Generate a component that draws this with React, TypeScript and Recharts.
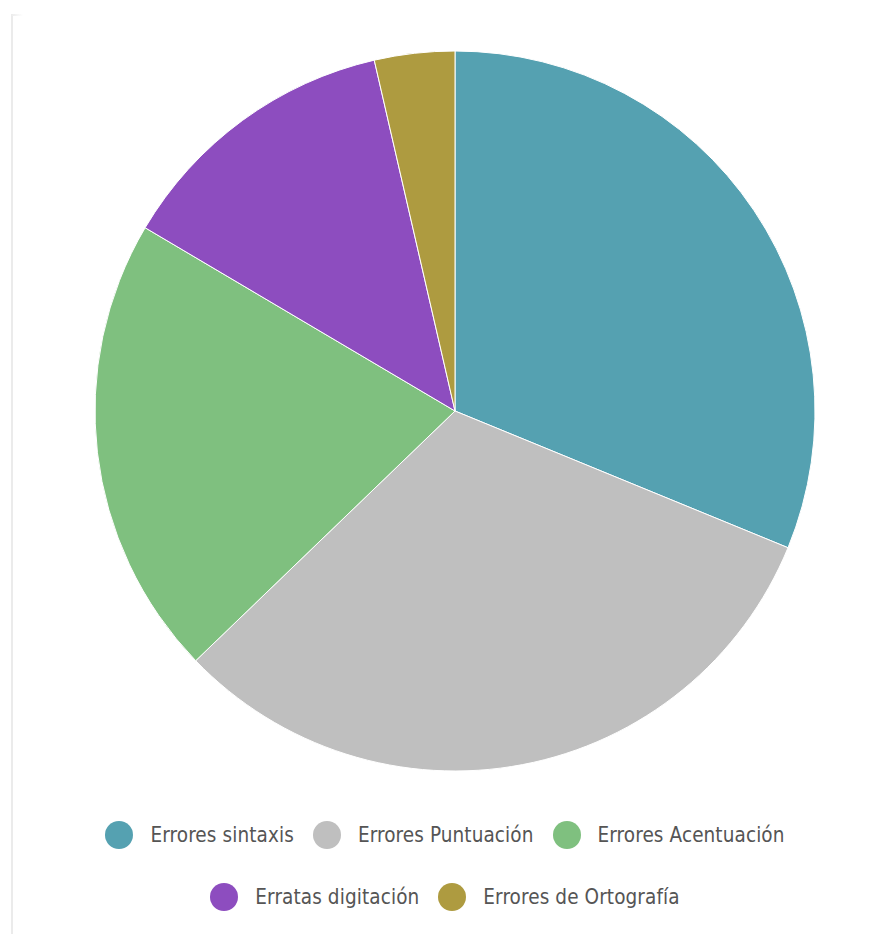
import { PieChart, Pie, Cell, Legend } from 'recharts';

const categories = [
  'Errores sintaxis',
  'Errores Puntuación',
  'Errores Acentuación',
  'Erratas digitación',
  'Errores de Ortografía',
];
const values = [31.2, 31.6, 20.7, 12.9, 3.6];
const colors = ['#55a1b1', '#bfbfbf', '#7fc07f', '#8d4dbf', '#ae9b40'];

const data = categories.map((name, i) => ({ name, value: values[i] }));

const font = '"Liberation Sans Narrow", "DejaVu Sans Condensed", "Roboto", sans-serif';

// legend follows the series order, two rows like the original
function renderLegend() {
  const items = categories.map((name, i) => ({ name, color: colors[i] }));
  const rows = [items.slice(0, 3), items.slice(3)];
  return (
    <div style={{ fontFamily: font }}>
      {rows.map((row, r) => (
        <div
          key={r}
          style={{
            display: 'flex',
            justifyContent: 'center',
            alignItems: 'center',
            height: 40,
            marginBottom: 22,
            gap: 19,
          }}
        >
          {row.map((entry) => (
            <div key={entry.name} style={{ display: 'flex', alignItems: 'center' }}>
              <span
                style={{
                  width: 28,
                  height: 28,
                  borderRadius: '50%',
                  background: entry.color,
                  display: 'inline-block',
                  marginRight: 17,
                }}
              />
              <span style={{ fontSize: 20.5, color: '#555555', letterSpacing: 0.1 }}>
                {entry.name}
              </span>
            </div>
          ))}
        </div>
      ))}
    </div>
  );
}

export default function App() {
  return (
    <div style={{ position: 'relative', width: 870, height: 926 }}>
      <div
        style={{
          position: 'absolute',
          left: 3,
          top: 6,
          bottom: -20,
          width: 2,
          background: '#ebebeb',
        }}
      />
      <div
        style={{
          position: 'absolute',
          left: 3,
          top: 6,
          width: 12,
          height: 2,
          background: 'linear-gradient(to right, #ebebeb, #ffffff)',
        }}
      />
      <PieChart width={870} height={926}>
        <Pie
          data={data}
          dataKey="value"
          nameKey="name"
          cx={442}
          cy={398}
          outerRadius={360}
          startAngle={90}
          endAngle={-270}
          stroke="#ffffff"
          strokeWidth={1}
          isAnimationActive={false}
        >
          {data.map((d, i) => (
            <Cell key={d.name} fill={colors[i]} />
          ))}
        </Pie>
        <Legend
          content={renderLegend}
          wrapperStyle={{ top: 807, left: 2, width: 870 }}
        />
      </PieChart>
    </div>
  );
}
